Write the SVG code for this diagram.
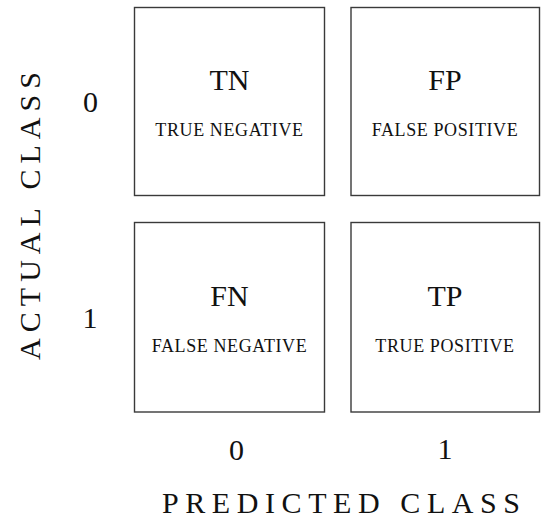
<svg xmlns="http://www.w3.org/2000/svg" width="541" height="518" viewBox="0 0 541 518">
<style>
.box{fill:#fff;stroke:#3a3a3a;stroke-width:1.4}
.t{font-family:"Liberation Serif","Times New Roman",serif;fill:#111}
.big{font-size:30px;text-anchor:middle}
.small{font-size:18px;text-anchor:middle;letter-spacing:0.6px}
.axis{font-size:30px}
</style>
<rect width="541" height="518" fill="#fff"/>
<g id="TN">
<rect class="box" x="134.5" y="7.5" width="190" height="188"/>
<text class="t big" x="229.5" y="90">TN</text>
<text class="t small" x="229.5" y="136">TRUE NEGATIVE</text>
</g>
<g id="FP">
<rect class="box" x="351" y="7.5" width="188.5" height="188"/>
<text class="t big" x="445" y="90">FP</text>
<text class="t small" x="445" y="136">FALSE POSITIVE</text>
</g>
<g id="FN">
<rect class="box" x="134.5" y="222.5" width="190" height="189.5"/>
<text class="t big" x="229.5" y="306">FN</text>
<text class="t small" x="229.5" y="352">FALSE NEGATIVE</text>
</g>
<g id="TP">
<rect class="box" x="351" y="222.5" width="188.5" height="189.5"/>
<text class="t big" x="445" y="306">TP</text>
<text class="t small" x="445" y="352">TRUE POSITIVE</text>
</g>
<g id="connectors"></g>
<g id="labels">
<text class="t big" x="90.5" y="112">0</text>
<text class="t big" x="90" y="328">1</text>
<text class="t big" x="236.5" y="460">0</text>
<text class="t big" x="445" y="459">1</text>
<text class="t axis" transform="translate(40,360) rotate(-90)" x="0" y="0" textLength="288" lengthAdjust="spacing">ACTUAL CLASS</text>
<text class="t axis" x="162" y="513" textLength="358" lengthAdjust="spacing">PREDICTED CLASS</text>
</g>
</svg>
